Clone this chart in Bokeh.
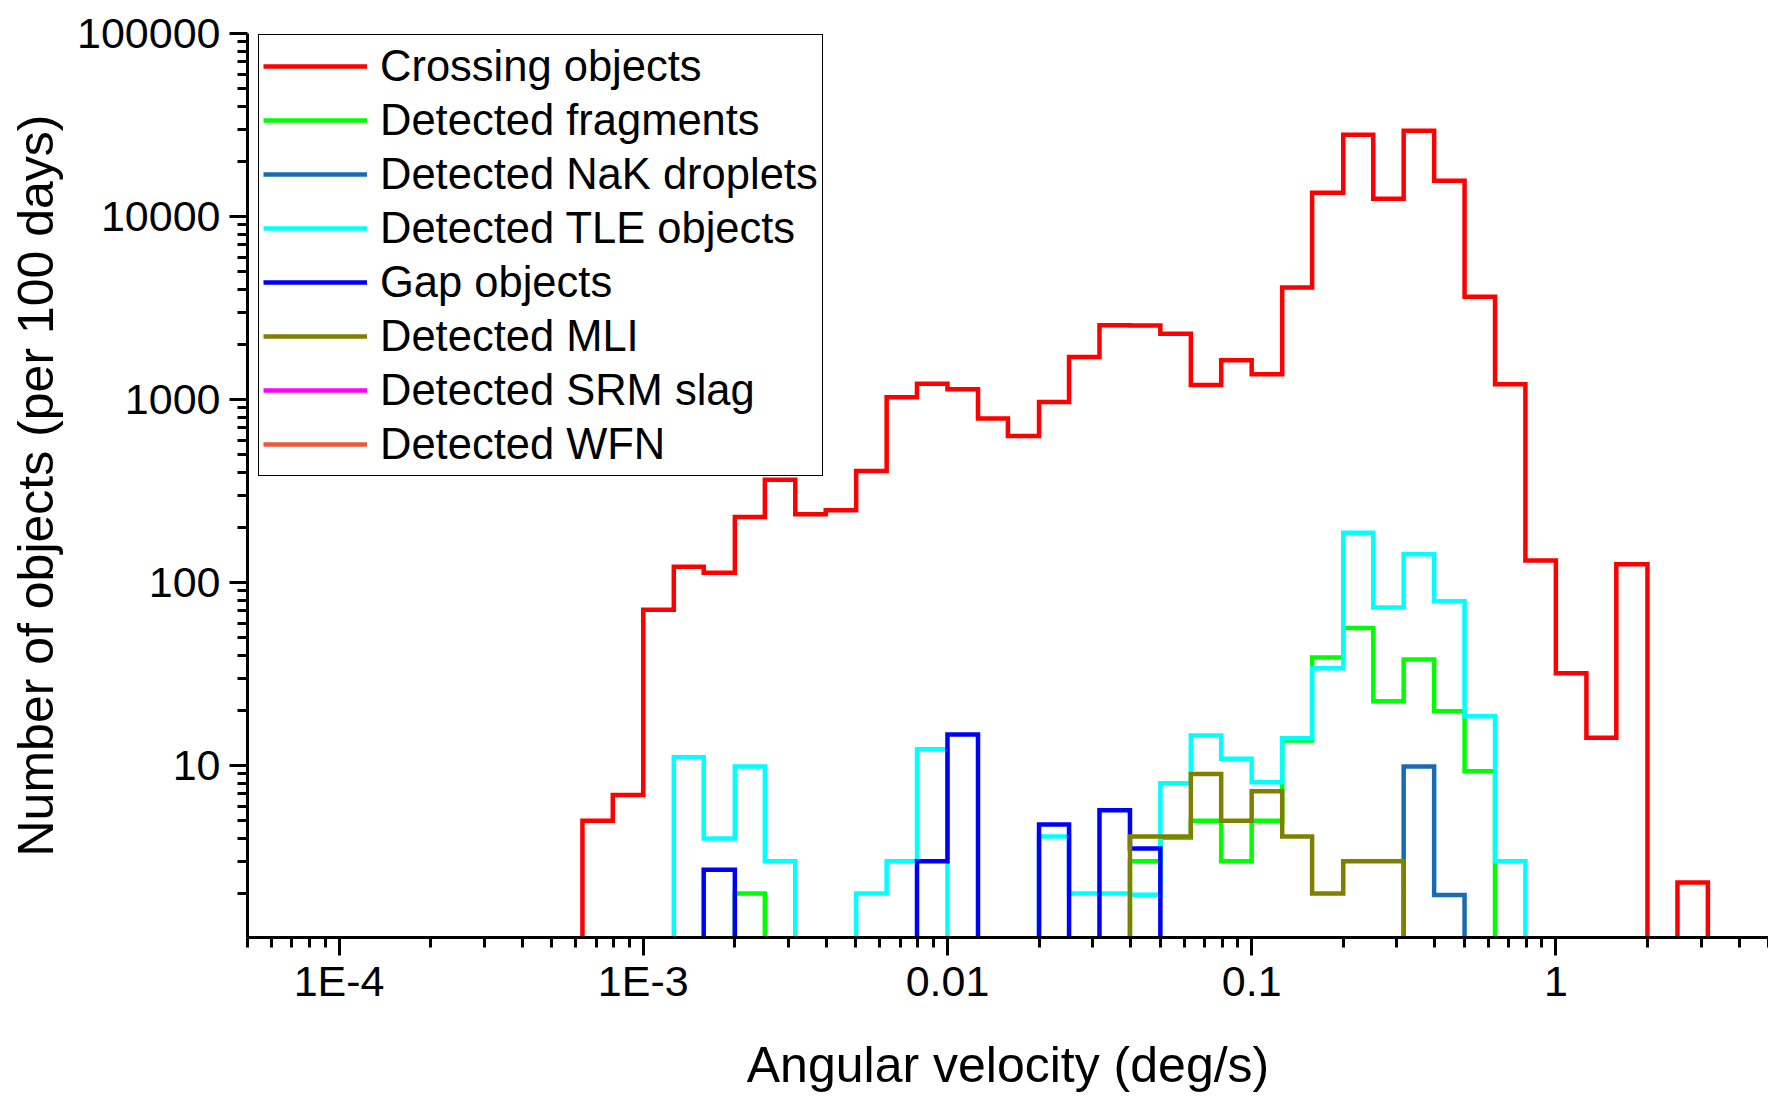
from bokeh.plotting import figure
from bokeh.models import Legend, LegendItem, FixedTicker
from bokeh.embed import file_html
from bokeh.resources import INLINE

# Bin edges (deg/s), 10 bins per decade
bin_edges = [6.31e-4, 7.94e-4, 1.00e-3, 1.26e-3, 1.58e-3, 2.00e-3, 2.51e-3, 3.16e-3,
             3.98e-3, 5.01e-3, 6.31e-3, 7.94e-3, 1.00e-2, 1.26e-2, 1.58e-2, 2.00e-2,
             2.51e-2, 3.16e-2, 3.98e-2, 5.01e-2, 6.31e-2, 7.94e-2, 0.100, 0.126,
             0.158, 0.200, 0.251, 0.316, 0.398, 0.501, 0.631, 0.794, 1.00, 1.26,
             1.58, 2.00, 2.51, 3.16]

crossing = [5.0, 6.9, 71, 122, 113, 228, 365, 236, 248, 407,
            1030, 1220, 1140, 787, 633, 970, 1710, 2550, 2540, 2290,
            1200, 1640, 1374, 4090, 13500, 28000, 12500, 29400, 15700, 3640,
            1213, 132, 32, 14.2, 126, 0, 2.3]
fragments = [0, 0, 0, 0, 0, 2.0, 0, 0, 0, 0,
             0, 0, 0, 0, 0, 0, 0, 0, 3.0, 4.04,
             5.0, 3.0, 5.0, 13.7, 39, 56.5, 22.5, 38, 19.8, 9.3,
             0, 0, 0, 0, 0, 0, 0]
nak = [0, 0, 0, 0, 0, 0, 0, 0, 0, 0,
       0, 0, 0, 0, 0, 0, 0, 0, 0, 0,
       0, 0, 0, 0, 0, 0, 0, 9.9, 1.96, 0,
       0, 0, 0, 0, 0, 0, 0]
tle = [0, 0, 0, 11.1, 4.0, 9.9, 3.0, 0, 0, 2.0,
       3.0, 12.3, 0, 0, 0, 4.1, 2.0, 2.0, 1.97, 8.0,
       14.6, 10.9, 8.1, 14.1, 34, 187, 73, 143, 79, 18.6,
       3.0, 0, 0, 0, 0, 0, 0]
gap = [0, 0, 0, 0, 2.7, 0, 0, 0, 0, 0,
       0, 3.0, 14.8, 0, 0, 4.76, 0, 5.7, 3.52, 0,
       0, 0, 0, 0, 0, 0, 0, 0, 0, 0,
       0, 0, 0, 0, 0, 0, 0]
mli = [0, 0, 0, 0, 0, 0, 0, 0, 0, 0,
       0, 0, 0, 0, 0, 0, 0, 0, 4.1, 4.1,
       9.0, 5.0, 7.24, 4.1, 2.0, 3.0, 3.0, 0, 0, 0,
       0, 0, 0, 0, 0, 0, 0]
srm = [0] * 37
wfn = [0] * 37

series_names = ["Crossing objects", "Detected fragments", "Detected NaK droplets",
                "Detected TLE objects", "Gap objects", "Detected MLI",
                "Detected SRM slag", "Detected WFN"]
series_values = [crossing, fragments, nak, tle, gap, mli, srm, wfn]
series_colors = ["#FF0000", "#00FF00", "#1A6CB0", "#00FFFF", "#0000FF", "#808000",
                 "#FF00FF", "#E8583A"]

x_major = [1e-4, 1e-3, 0.01, 0.1, 1]
x_labels = ["1E-4", "1E-3", "0.01", "0.1", "1"]
y_major = [10, 100, 1000, 10000, 100000]
y_labels = ["10", "100", "1000", "10000", "100000"]

FLOOR = 0.05  # zero counts drawn below the visible range


def step_xy(edges, counts):
    xs, ys = [edges[0]], [FLOOR]
    for i, c in enumerate(counts):
        v = c if c > 0 else FLOOR
        xs += [edges[i], edges[i + 1]]
        ys += [v, v]
    xs.append(edges[-1])
    ys.append(FLOOR)
    return xs, ys


FONT = "Liberation Sans"

p = figure(width=1768, height=1096, x_axis_type="log", y_axis_type="log",
           x_range=(5e-5, 5), y_range=(1.15, 100000),
           output_backend="svg", toolbar_location=None,
           min_border_left=247, min_border_right=0, min_border_top=33,
           min_border_bottom=159)
p.outline_line_color = None
p.xgrid.visible = False
p.ygrid.visible = False
p.background_fill_color = "white"
p.border_fill_color = "white"

x_minor = [m * 10.0 ** e for e in range(-5, 1) for m in range(2, 10)]
y_minor = [m * 10.0 ** e for e in range(0, 5) for m in range(2, 10)]
p.xaxis.ticker = FixedTicker(ticks=x_major, minor_ticks=x_minor)
p.yaxis.ticker = FixedTicker(ticks=y_major, minor_ticks=y_minor)
p.xaxis.major_label_overrides = {v: s for v, s in zip(x_major, x_labels)}
p.yaxis.major_label_overrides = {v: s for v, s in zip(y_major, y_labels)}

for ax in (p.xaxis, p.yaxis):
    ax.axis_line_width = 3
    ax.major_tick_line_width = 3
    ax.minor_tick_line_width = 3
    ax.major_tick_out = 18
    ax.major_tick_in = 0
    ax.minor_tick_out = 10
    ax.minor_tick_in = 0
    ax.major_label_text_font = FONT
    ax.major_label_text_font_size = "43px"
    ax.major_label_text_color = "black"
    ax.axis_label_text_font = FONT
    ax.axis_label_text_font_size = "50px"
    ax.axis_label_text_font_style = "normal"
    ax.axis_label_text_color = "black"

p.xaxis.axis_label = "Angular velocity (deg/s)"
p.yaxis.axis_label = "Number of objects (per 100 days)"
p.xaxis.major_label_standoff = 1
p.yaxis.major_label_standoff = 9
p.xaxis.axis_label_standoff = 29
p.yaxis.axis_label_standoff = 10

items = []
for name, vals, col in zip(series_names, series_values, series_colors):
    xs, ys = step_xy(bin_edges, vals)
    r = p.line(xs, ys, line_color=col, line_width=4.5, line_join="miter")
    items.append(LegendItem(label=name, renderers=[r]))

legend = Legend(items=items, location=(11, 461),
                label_text_font=FONT, label_text_font_size="43.5px",
                label_text_color="black",
                glyph_width=104, glyph_height=54, label_height=54,
                spacing=0, padding=4, margin=0, label_standoff=13,
                border_line_color="black", border_line_width=1.5,
                border_line_alpha=1.0,
                background_fill_color="white", background_fill_alpha=1.0)
p.add_layout(legend)

open("out.html", "w").write(file_html(p, INLINE))
